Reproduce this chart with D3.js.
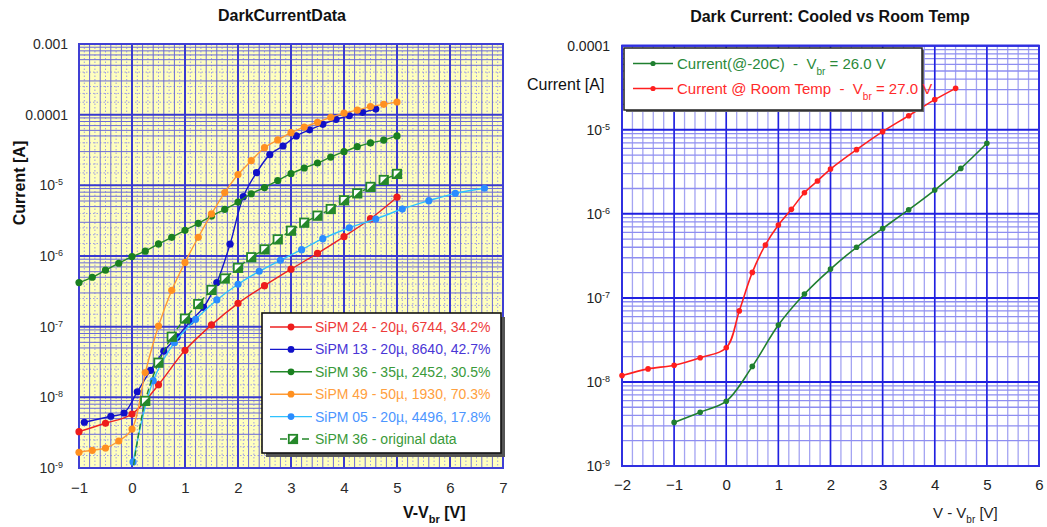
<!DOCTYPE html>
<html>
<head>
<meta charset="utf-8">
<script src="https://cdn.jsdelivr.net/npm/d3@7"></script>
<style>
  body { margin: 0; background: #fff; }
  svg { display: block; font-family: Arial, "Liberation Sans", sans-serif; }
  text { white-space: pre; }
</style>
</head>
<body>
<svg id="chart" width="1047" height="527"></svg>
<script>
// ---------- Left chart: dark current of several SiPMs vs over-voltage ----------
const sipm24V = [-1, -0.5, 0, 0.5, 1, 1.5, 2, 2.5, 3, 3.5, 4, 4.5, 5];
const sipm24I = [3.27e-9, 4.3e-9, 5.8e-9, 1.51e-8, 4.63e-8, 1.06e-7, 2.14e-7, 3.8e-7, 6.5e-7, 1.09e-6, 1.88e-6, 3.37e-6, 6.8e-6];

const sipm13V = [-0.9, -0.4, -0.15, 0.1, 0.35, 0.6, 0.85, 1.1, 1.35, 1.6, 1.85, 2.1, 2.35, 2.6, 2.85, 3.1, 3.35, 3.6, 3.85, 4.1, 4.35, 4.6];
const sipm13I = [4.44e-9, 5.4e-9, 6.0e-9, 1.2e-8, 2.4e-8, 4.5e-8, 7.1e-8, 1.19e-7, 1.88e-7, 4.2e-7, 1.47e-6, 6.9e-6, 1.51e-5, 2.72e-5, 3.6e-5, 5.0e-5, 6.1e-5, 7.3e-5, 8.6e-5, 9.7e-5, 1.08e-4, 1.2e-4];

const sipm36V = [-1, -0.75, -0.5, -0.25, 0, 0.25, 0.5, 0.75, 1, 1.25, 1.5, 1.75, 2, 2.25, 2.5, 2.75, 3, 3.25, 3.5, 3.75, 4, 4.25, 4.5, 4.75, 5];
const sipm36I = [4.2e-7, 5.0e-7, 6.3e-7, 7.9e-7, 9.8e-7, 1.17e-6, 1.48e-6, 1.84e-6, 2.31e-6, 2.9e-6, 3.68e-6, 4.57e-6, 5.8e-6, 7.6e-6, 9.3e-6, 1.17e-5, 1.46e-5, 1.76e-5, 2.07e-5, 2.51e-5, 2.99e-5, 3.52e-5, 3.98e-5, 4.37e-5, 5.0e-5];

const sipm49V = [-1, -0.75, -0.5, -0.25, 0, 0.25, 0.5, 0.75, 1, 1.25, 1.5, 1.75, 2, 2.25, 2.5, 2.75, 3, 3.25, 3.5, 3.75, 4, 4.25, 4.5, 4.75, 5];
const sipm49I = [1.67e-9, 1.78e-9, 1.92e-9, 2.41e-9, 3.56e-9, 2.24e-8, 1.02e-7, 3.27e-7, 8.1e-7, 1.84e-6, 3.94e-6, 7.9e-6, 1.42e-5, 2.23e-5, 3.41e-5, 4.39e-5, 5.56e-5, 6.68e-5, 7.8e-5, 9.2e-5, 1.05e-4, 1.16e-4, 1.30e-4, 1.40e-4, 1.51e-4];

const sipm05V = [0.02, 0.4, 0.8, 1.2, 1.6, 2.0, 2.4, 2.8, 3.2, 3.6, 4.1, 4.6, 5.1, 5.6, 6.1, 6.65];
const sipm05I = [1.22e-9, 1.72e-8, 5.94e-8, 1.27e-7, 2.39e-7, 3.98e-7, 6.08e-7, 8.7e-7, 1.23e-6, 1.76e-6, 2.51e-6, 3.34e-6, 4.62e-6, 6.07e-6, 7.71e-6, 9.1e-6];

const sipm36origV = [0.03, 0.25, 0.5, 0.75, 1, 1.25, 1.5, 1.75, 2, 2.25, 2.5, 2.75, 3, 3.25, 3.5, 3.75, 4, 4.25, 4.5, 4.75, 5];
const sipm36origI = [1.1e-9, 8.9e-9, 3.09e-8, 7.2e-8, 1.30e-7, 2.09e-7, 3.31e-7, 4.8e-7, 6.8e-7, 9.6e-7, 1.24e-6, 1.72e-6, 2.28e-6, 2.96e-6, 3.72e-6, 4.62e-6, 6.14e-6, 7.7e-6, 9.5e-6, 1.19e-5, 1.45e-5];

const leftLegend = [
  "SiPM 24 - 20\u00b5, 6744, 34.2%",
  "SiPM 13 - 20\u00b5, 8640, 42.7%",
  "SiPM 36 - 35\u00b5, 2452, 30.5%",
  "SiPM 49 - 50\u00b5, 1930, 70.3%",
  "SiPM 05 - 20\u00b5, 4496, 17.8%",
  "SiPM 36 - original data"
];
const leftXTicks = [-1, 0, 1, 2, 3, 4, 5, 6, 7];
const leftYTicks = [1e-3, 1e-4, 1e-5, 1e-6, 1e-7, 1e-8, 1e-9];

// ---------- Right chart: cooled vs room temperature ----------
const cooledV = [-1, -0.5, 0, 0.5, 1, 1.5, 2, 2.5, 3, 3.5, 4, 4.5, 5];
const cooledI = [3.3e-9, 4.36e-9, 5.9e-9, 1.53e-8, 4.75e-8, 1.11e-7, 2.2e-7, 4.0e-7, 6.7e-7, 1.12e-6, 1.92e-6, 3.47e-6, 6.9e-6];
const roomV = [-2, -1.5, -1, -0.5, 0, 0.25, 0.5, 0.75, 1, 1.25, 1.5, 1.75, 2, 2.5, 3, 3.5, 4, 4.4];
const roomI = [1.19e-8, 1.43e-8, 1.58e-8, 1.94e-8, 2.55e-8, 7.0e-8, 2.01e-7, 4.26e-7, 7.36e-7, 1.13e-6, 1.78e-6, 2.46e-6, 3.41e-6, 5.8e-6, 9.5e-6, 1.47e-5, 2.28e-5, 3.11e-5];
const rightXTicks = [-2, -1, 0, 1, 2, 3, 4, 5, 6];
const rightYTicks = [1e-4, 1e-5, 1e-6, 1e-7, 1e-8, 1e-9];

const svg = d3.select("#chart");
const zip = (xs, ys) => xs.map((x, i) => ({ x, y: ys[i] }));

// label text for a power of ten: decimals for the top decades, 10^n otherwise
function tickLabel(sel, plainAbove, dxSup) {
  sel.each(function (d) {
    const t = d3.select(this).text("");
    const e = Math.round(Math.log10(d));
    if (d >= plainAbove) {
      t.text(e === -3 ? "0.001" : "0.0001");
    } else {
      t.attr("x", dxSup);
      t.append("tspan").text("10");
      t.append("tspan").attr("dy", "-0.55em").attr("font-size", "9px").text(String(e));
    }
  });
}

function logMinor(domain, mults) {
  const out = [];
  const lo = Math.round(Math.log10(domain[0])), hi = Math.round(Math.log10(domain[1]));
  for (let e = lo; e < hi; e++) mults.forEach(m => out.push(m * Math.pow(10, e)));
  return out;
}
function linSteps(a, b, step) {
  const out = [];
  const n = Math.round((b - a) / step);
  for (let i = 0; i <= n; i++) out.push(+(a + i * step).toFixed(4));
  return out;
}

// ================= LEFT PANEL =================
const xL = d3.scaleLinear().domain([-1, 7]).range([79, 503]);
const yL = d3.scaleLog().domain([1e-9, 1e-3]).range([468, 44]);
const L = svg.append("g");

L.append("rect").attr("x", 79).attr("y", 44).attr("width", 424).attr("height", 424).attr("fill", "#ffffbe");

const gridL = L.append("g");
// dotted fine grid
linSteps(-0.9, 6.9, 0.2).forEach(v => {
  gridL.append("line").attr("x1", xL(v)).attr("x2", xL(v)).attr("y1", 44).attr("y2", 468)
    .attr("stroke", "#9c9ce6").attr("stroke-width", 1).attr("stroke-dasharray", "1.5,2");
});
logMinor([1e-9, 1e-3], [1.5, 2, 2.5, 4]).forEach(v => {
  gridL.append("line").attr("x1", 79).attr("x2", 503).attr("y1", yL(v)).attr("y2", yL(v))
    .attr("stroke", "#9c9ce6").attr("stroke-width", 1).attr("stroke-dasharray", "1.5,2");
});
// solid minor grid
linSteps(-1, 7, 0.2).forEach(v => {
  gridL.append("line").attr("x1", xL(v)).attr("x2", xL(v)).attr("y1", 44).attr("y2", 468)
    .attr("stroke", "#6a6ad8").attr("stroke-width", 1);
});
logMinor([1e-9, 1e-3], [3, 5, 6, 7, 8, 9]).forEach(v => {
  gridL.append("line").attr("x1", 79).attr("x2", 503).attr("y1", yL(v)).attr("y2", yL(v))
    .attr("stroke", "#6a6ad8").attr("stroke-width", 1);
});
// major grid
leftXTicks.forEach(v => {
  gridL.append("line").attr("x1", xL(v)).attr("x2", xL(v)).attr("y1", 44).attr("y2", 468)
    .attr("stroke", "#3a3ad0").attr("stroke-width", 2);
});
leftYTicks.forEach(v => {
  gridL.append("line").attr("x1", 79).attr("x2", 503).attr("y1", yL(v)).attr("y2", yL(v))
    .attr("stroke", "#3a3ad0").attr("stroke-width", 2);
});
L.append("rect").attr("x", 79).attr("y", 44).attr("width", 424).attr("height", 424)
  .attr("fill", "none").attr("stroke", "#4040d4").attr("stroke-width", 2);

// axes
const axLY = L.append("g").attr("transform", "translate(79,0)")
  .call(d3.axisLeft(yL).tickValues(leftYTicks).tickSize(0).tickPadding(11));
axLY.select(".domain").remove();
axLY.selectAll("text").attr("font-size", "14px").attr("fill", "#2a2a2a").attr("font-family", "Arial, 'Liberation Sans', sans-serif")
  .call(tickLabel, 1e-4, -16);

const axLX = L.append("g").attr("transform", "translate(0,468)")
  .call(d3.axisBottom(xL).tickValues(leftXTicks).tickSize(0).tickPadding(14).tickFormat(d3.format("d")));
axLX.select(".domain").remove();
axLX.selectAll("text").attr("font-size", "15px").attr("fill", "#2a2a2a").attr("font-family", "Arial, 'Liberation Sans', sans-serif");

L.append("text").attr("x", 282).attr("y", 21).attr("text-anchor", "middle")
  .attr("font-size", "16px").attr("font-weight", "bold").attr("fill", "#111").text("DarkCurrentData");
L.append("text").attr("transform", "translate(25,183) rotate(-90)").attr("text-anchor", "middle")
  .attr("font-size", "16px").attr("font-weight", "bold").attr("fill", "#111").text("Current [A]");
const xtL = L.append("text").attr("x", 403).attr("y", 518).attr("font-size", "16px").attr("font-weight", "bold").attr("fill", "#111");
xtL.append("tspan").text("V-V");
xtL.append("tspan").attr("font-size", "11px").attr("dy", "5").text("br");
xtL.append("tspan").attr("dy", "-5").text(" [V]");

// series
const smooth = d3.curveCatmullRom.alpha(0.5);
const lineL = d3.line().x(d => xL(d.x)).y(d => yL(d.y)).curve(smooth);
const leftSeries = [
  { data: zip(sipm24V, sipm24I), line: "#ee2222", dot: "#ee1c1c", text: "#ee3a3a" },
  { data: zip(sipm13V, sipm13I), line: "#1616cc", dot: "#1010c8", text: "#4a36d6" },
  { data: zip(sipm36V, sipm36I), line: "#23892a", dot: "#1a8020", text: "#3a9a3a" },
  { data: zip(sipm49V, sipm49I), line: "#ff9a33", dot: "#ff9020", text: "#ffa040" },
  { data: zip(sipm05V, sipm05I), line: "#2ec2ff", dot: "#2a8cff", text: "#4c96ff" }
];
const plotL = L.append("g");
leftSeries.forEach(s => {
  plotL.append("path").datum(s.data).attr("d", lineL).attr("fill", "none")
    .attr("stroke", s.line).attr("stroke-width", 1.4);
  plotL.selectAll(null).data(s.data).join("circle")
    .attr("cx", d => xL(d.x)).attr("cy", d => yL(d.y)).attr("r", 3.6).attr("fill", s.dot);
});
// original SiPM 36 measurement: dashed line with half-filled squares
const origData = zip(sipm36origV, sipm36origI);
const origColor = "#25882a";
plotL.append("path").datum(origData).attr("d", lineL).attr("fill", "none")
  .attr("stroke", origColor).attr("stroke-width", 1.4).attr("stroke-dasharray", "6,3");
function squareMark(g, cx, cy) {
  const h = 4.2;
  g.append("rect").attr("x", cx - h).attr("y", cy - h).attr("width", 2 * h).attr("height", 2 * h)
    .attr("fill", "#fff").attr("stroke", origColor).attr("stroke-width", 1.8);
  g.append("path").attr("d", `M${cx + h},${cy - h}L${cx + h},${cy + h}L${cx - h},${cy + h}Z`).attr("fill", origColor);
}
origData.slice(1).forEach(d => squareMark(plotL, xL(d.x), yL(d.y)));

// legend
const lgL = L.append("g");
lgL.append("rect").attr("x", 266).attr("y", 317).attr("width", 239).attr("height", 140).attr("fill", "#555");
lgL.append("rect").attr("x", 262).attr("y", 313).attr("width", 239).attr("height", 140)
  .attr("fill", "#fff").attr("stroke", "#111").attr("stroke-width", 1.6);
leftSeries.forEach((s, i) => {
  const cy = 327 + i * 22.4;
  lgL.append("line").attr("x1", 270).attr("x2", 312).attr("y1", cy).attr("y2", cy).attr("stroke", s.line).attr("stroke-width", 1.4);
  lgL.append("circle").attr("cx", 291).attr("cy", cy).attr("r", 3.4).attr("fill", s.dot);
  lgL.append("text").attr("x", 315).attr("y", cy + 5).attr("font-size", "14px").attr("fill", s.text).text(leftLegend[i]);
});
{
  const cy = 327 + 5 * 22.4;
  lgL.append("line").attr("x1", 280).attr("x2", 309).attr("y1", cy).attr("y2", cy)
    .attr("stroke", origColor).attr("stroke-width", 1.4).attr("stroke-dasharray", "7,4");
  squareMark(lgL, 293, cy);
  lgL.append("text").attr("x", 315).attr("y", cy + 5).attr("font-size", "14px").attr("fill", "#3a9a3a").text(leftLegend[5]);
}

// ================= RIGHT PANEL =================
const xR = d3.scaleLinear().domain([-2, 6]).range([622, 1039]);
const yR = d3.scaleLog().domain([1e-9, 1e-4]).range([466, 45.7]);
const R = svg.append("g");

const gridR = R.append("g");
linSteps(-2, 6, 0.2).forEach(v => {
  gridR.append("line").attr("x1", xR(v)).attr("x2", xR(v)).attr("y1", 45.7).attr("y2", 466)
    .attr("stroke", "#a4a4f2").attr("stroke-width", 1.3);
});
logMinor([1e-9, 1e-4], [2, 3, 4, 5, 6, 7, 8, 9]).forEach(v => {
  gridR.append("line").attr("x1", 622).attr("x2", 1039).attr("y1", yR(v)).attr("y2", yR(v))
    .attr("stroke", "#8e8ef0").attr("stroke-width", 1.3);
});
rightXTicks.forEach(v => {
  gridR.append("line").attr("x1", xR(v)).attr("x2", xR(v)).attr("y1", 45.7).attr("y2", 466)
    .attr("stroke", "#2020e0").attr("stroke-width", 1.6);
});
rightYTicks.forEach(v => {
  gridR.append("line").attr("x1", 622).attr("x2", 1039).attr("y1", yR(v)).attr("y2", yR(v))
    .attr("stroke", "#2020e0").attr("stroke-width", 2);
});
R.append("rect").attr("x", 622).attr("y", 45.7).attr("width", 417).attr("height", 420.3)
  .attr("fill", "none").attr("stroke", "#3030e0").attr("stroke-width", 2);

const axRY = R.append("g").attr("transform", "translate(622,0)")
  .call(d3.axisLeft(yR).tickValues(rightYTicks).tickSize(0).tickPadding(12));
axRY.select(".domain").remove();
axRY.selectAll("text").attr("font-size", "14px").attr("fill", "#222").attr("font-family", "Arial, 'Liberation Sans', sans-serif")
  .call(tickLabel, 1e-4, -12);

const axRX = R.append("g").attr("transform", "translate(0,466)")
  .call(d3.axisBottom(xR).tickValues(rightXTicks).tickSize(0).tickPadding(13).tickFormat(d3.format("d")));
axRX.select(".domain").remove();
axRX.selectAll("text").attr("font-size", "15px").attr("fill", "#222").attr("font-family", "Arial, 'Liberation Sans', sans-serif");

R.append("text").attr("x", 830).attr("y", 22).attr("text-anchor", "middle")
  .attr("font-size", "16px").attr("font-weight", "bold").attr("fill", "#111").text("Dark Current: Cooled vs Room Temp");
R.append("text").attr("x", 527).attr("y", 90).attr("font-size", "16px").attr("fill", "#111").text("Current [A]");
const xtR = R.append("text").attr("x", 933).attr("y", 518).attr("font-size", "15px").attr("fill", "#222");
xtR.append("tspan").text("V - V");
xtR.append("tspan").attr("font-size", "10px").attr("dy", "5").text("br");
xtR.append("tspan").attr("dy", "-5").text(" [V]");

const lineR = d3.line().x(d => xR(d.x)).y(d => yR(d.y)).curve(smooth);
const rightSeries = [
  { data: zip(cooledV, cooledI), color: "#1f7f2f", text: "#2a8a3a",
    label: ["Current(@-20C)  -  V", "br", " = 26.0 V"] },
  { data: zip(roomV, roomI), color: "#ff1f1f", text: "#ff2a2a",
    label: ["Current @ Room Temp  -  V", "br", " = 27.0 V"] }
];
const plotR = R.append("g");
rightSeries.forEach(s => {
  plotR.append("path").datum(s.data).attr("d", lineR).attr("fill", "none")
    .attr("stroke", s.color).attr("stroke-width", 1.6);
  plotR.selectAll(null).data(s.data).join("circle")
    .attr("cx", d => xR(d.x)).attr("cy", d => yR(d.y)).attr("r", 2.8).attr("fill", s.color);
});

const lgR = R.append("g");
lgR.append("rect").attr("x", 626).attr("y", 50).attr("width", 298).attr("height", 62).attr("fill", "#666");
lgR.append("rect").attr("x", 624).attr("y", 48).attr("width", 298).attr("height", 62)
  .attr("fill", "#fff").attr("stroke", "#222").attr("stroke-width", 1.5);
rightSeries.forEach((s, i) => {
  const cy = 63.5 + i * 25;
  lgR.append("line").attr("x1", 633).attr("x2", 673).attr("y1", cy).attr("y2", cy).attr("stroke", s.color).attr("stroke-width", 1.5);
  lgR.append("circle").attr("cx", 653).attr("cy", cy).attr("r", 2.6).attr("fill", s.color);
  const t = lgR.append("text").attr("x", 677).attr("y", cy + 5.5).attr("font-size", "15px").attr("fill", s.text);
  t.append("tspan").text(s.label[0]);
  t.append("tspan").attr("font-size", "10px").attr("dy", "6").text(s.label[1]);
  t.append("tspan").attr("dy", "-6").text(s.label[2]);
});
</script>
</body>
</html>
